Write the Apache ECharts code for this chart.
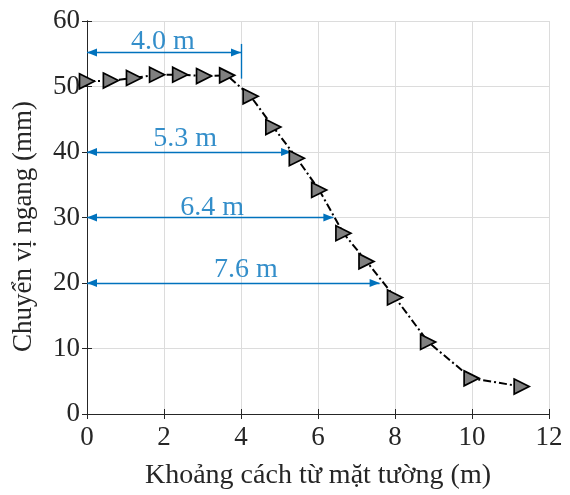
<!DOCTYPE html>
<html><head><meta charset="utf-8">
<script src="https://cdn.jsdelivr.net/npm/echarts@6/dist/echarts.min.js"></script>
<style>html,body{margin:0;padding:0;background:#fff}#c{width:570px;height:495px}</style>
</head><body><div id="c"></div>
<script>
// Data
const distance = [0, 0.62, 1.22, 1.82, 2.42, 3.04, 3.64, 4.25, 4.84, 5.45, 6.03, 6.66, 7.26, 8.0, 8.86, 9.99, 11.29];
const displacement = [50.8, 50.9, 51.3, 51.8, 51.8, 51.6, 51.7, 48.5, 43.8, 39.05, 34.2, 27.6, 23.3, 17.8, 11.0, 5.44, 4.19];
const arrowLevels = [55.2, 40, 30, 20];
const arrowEnds = [4.0, 5.3, 6.4, 7.6];
const arrowTexts = ['4.0 m', '5.3 m', '6.4 m', '7.6 m'];
const textX = [1.97, 2.55, 3.25, 4.13];
const textY = [56.9, 42.1, 31.5, 22.0];
const markerX = [4.0];
const markerYRange = [51.2, 56.5];
const xTicks = [0, 2, 4, 6, 8, 10, 12];
const yTicks = [0, 10, 20, 30, 40, 50, 60];

const FONT = "'Liberation Serif','Times New Roman',serif";
const AX = '#262626';
const BLUE = '#0072BD';
// arrow head whose tip sits at the centre of its bounding box
const ARROW = 'path://M0,10 L4,0 L8,10 Z M4,-10 L4,-10';

const chart = echarts.init(document.getElementById('c'), null, {renderer: 'canvas'});

const arrowLines = arrowLevels.map((y, i) => [{coord: [0, y]}, {coord: [arrowEnds[i], y]}]);
const vline = [[{coord: [markerX[0], markerYRange[0]], symbol: 'none'}, {coord: [markerX[0], markerYRange[1]], symbol: 'none'}]];

const commonAxisLine = {show: true, lineStyle: {color: AX, width: 1}};
chart.setOption({
  animation: false,
  grid: {left: 87, right: 21, top: 21, bottom: 77, containLabel: false},
  xAxis: [{
    type: 'value', min: xTicks[0], max: xTicks[xTicks.length - 1], interval: 2,
    name: 'Khoảng cách từ mặt tường (m)', nameLocation: 'middle', nameGap: 48,
    nameTextStyle: {fontFamily: FONT, fontSize: 28, color: AX},
    axisLine: commonAxisLine,
    axisTick: {show: true, inside: true, length: 5, lineStyle: {color: AX}},
    axisLabel: {fontFamily: FONT, fontSize: 27, color: AX, margin: 10},
    splitLine: {show: true, lineStyle: {color: '#dcdcdc', width: 1}}
  }, {
    type: 'value', position: 'top', min: 0, max: 12, interval: 2,
    axisLine: commonAxisLine,
    axisTick: {show: true, inside: true, length: 5, lineStyle: {color: AX}},
    axisLabel: {show: false}, splitLine: {show: false}
  }],
  yAxis: [{
    type: 'value', min: yTicks[0], max: yTicks[yTicks.length - 1], interval: 10,
    name: 'Chuyển vị ngang (mm)', nameLocation: 'middle', nameGap: 50,
    nameTextStyle: {fontFamily: FONT, fontSize: 27, color: AX, padding: [0, 18, 0, 0]},
    axisLine: commonAxisLine,
    axisTick: {show: true, inside: true, length: 5, lineStyle: {color: AX}},
    axisLabel: {fontFamily: FONT, fontSize: 27, color: AX, margin: 7},
    splitLine: {show: true, lineStyle: {color: '#dcdcdc', width: 1}}
  }, {
    type: 'value', position: 'right', min: 0, max: 60, interval: 10,
    axisLine: commonAxisLine,
    axisTick: {show: true, inside: true, length: 5, lineStyle: {color: AX}},
    axisLabel: {show: false}, splitLine: {show: false}
  }],
  series: [{
    type: 'line',
    data: distance.map((x, i) => [x, displacement[i]]),
    lineStyle: {color: '#000', width: 2, type: [8, 3, 2, 3]},
    symbol: 'path://M0,0 L10,5 L0,10 Z',
    symbolSize: [15, 15],
    itemStyle: {color: '#808080', borderColor: '#000', borderWidth: 1.7},
    z: 5,
    markLine: {
      silent: true,
      symbol: [ARROW, ARROW],
      symbolSize: [8, 20],
      label: {show: false},
      lineStyle: {color: BLUE, width: 1.4, type: 'solid'},
      emphasis: {disabled: true},
      data: arrowLines.concat(vline)
    }
  }, {
    type: 'scatter',
    data: textX.map((x, i) => [x, textY[i], arrowTexts[i]]),
    symbolSize: 0,
    label: {
      show: true, position: 'inside', formatter: p => p.data[2],
      fontFamily: FONT, fontSize: 28, color: BLUE
    },
    z: 6
  }]
});
</script></body></html>
